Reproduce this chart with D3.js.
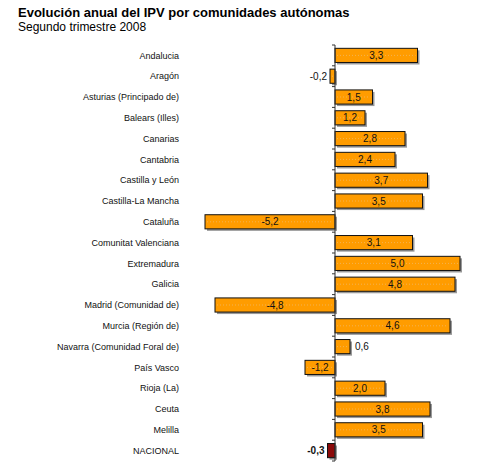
<!DOCTYPE html>
<html>
<head>
<meta charset="utf-8">
<script src="https://cdn.jsdelivr.net/npm/d3@7"></script>
<style>
  body { margin: 0; background: #fff; }
  text { font-family: "Liberation Sans", Arial, sans-serif; }
</style>
</head>
<body>
<svg id="chart"></svg>
<script>
const regions = ['Andalucia', 'Aragón', 'Asturias (Principado de)', 'Balears (Illes)', 'Canarias',
    'Cantabria', 'Castilla y León', 'Castilla-La Mancha', 'Cataluña', 'Comunitat Valenciana',
    'Extremadura', 'Galicia', 'Madrid (Comunidad de)', 'Murcia (Región de)',
    'Navarra (Comunidad Foral de)', 'País Vasco', 'Rioja (La)', 'Ceuta', 'Melilla', 'NACIONAL'];
const values = [3.3, -0.2, 1.5, 1.2, 2.8, 2.4, 3.7, 3.5, -5.2, 3.1, 5.0, 4.8, -4.8, 4.6, 0.6, -1.2, 2.0, 3.8, 3.5, -0.3];

const data = regions.map((r, i) => ({ name: r, value: values[i] }));

const width = 480, height = 466;
const svg = d3.select('#chart').attr('width', width).attr('height', height);

svg.append('text')
    .attr('x', 18).attr('y', 17)
    .attr('font-size', 13).attr('font-weight', 'bold')
    .text('Evolución anual del IPV por comunidades autónomas');
svg.append('text')
    .attr('x', 18).attr('y', 31)
    .attr('font-size', 12)
    .text('Segundo trimestre 2008');

const x = d3.scaleLinear().domain([-5.4, 5.2]).range([200, 465]);
const y = d3.scaleBand().domain(regions).range([45, 461]).paddingInner(0.32).paddingOuter(0.16);

const fmt = v => d3.format('.1f')(v).replace('.', ',').replace('−', '-');

// category labels
svg.append('g').selectAll('text')
    .data(data).enter().append('text')
    .attr('x', 179)
    .attr('y', d => y(d.name) + y.bandwidth() / 2)
    .attr('dy', '0.35em')
    .attr('text-anchor', 'end')
    .attr('font-size', 9)
    .attr('fill', '#111')
    .text(d => d.name);

// shadows
svg.append('g').selectAll('rect')
    .data(data).enter().append('rect')
    .attr('x', d => Math.min(x(0), x(d.value)) + 2)
    .attr('y', d => y(d.name) + 2)
    .attr('width', d => Math.abs(x(d.value) - x(0)))
    .attr('height', y.bandwidth())
    .attr('fill', '#999');

// bars
svg.append('g').selectAll('rect')
    .data(data).enter().append('rect')
    .attr('x', d => Math.min(x(0), x(d.value)))
    .attr('y', d => y(d.name))
    .attr('width', d => Math.abs(x(d.value) - x(0)))
    .attr('height', y.bandwidth())
    .attr('fill', d => d.name === 'NACIONAL' ? '#8b0a0a' : '#ff9c00')
    .attr('stroke', '#111')
    .attr('stroke-width', 1);

// faint dotted line inside bars
svg.append('g').selectAll('line')
    .data(data.filter(d => d.name !== 'NACIONAL')).enter().append('line')
    .attr('x1', d => Math.min(x(0), x(d.value)) + 2)
    .attr('x2', d => Math.max(x(0), x(d.value)) - 2)
    .attr('y1', d => y(d.name) + y.bandwidth() / 2)
    .attr('y2', d => y(d.name) + y.bandwidth() / 2)
    .attr('stroke', '#f4b250')
    .attr('stroke-dasharray', '1,2');

// axis line with ticks at band edges
const axis = svg.append('g');
axis.append('line')
    .attr('x1', x(0)).attr('x2', x(0))
    .attr('y1', y.range()[0]).attr('y2', y.range()[1])
    .attr('stroke', '#333');
axis.selectAll('.tick')
    .data(d3.range(regions.length + 1)).enter().append('line')
    .attr('x1', x(0) - 3).attr('x2', x(0))
    .attr('y1', i => y.range()[0] + i * y.step())
    .attr('y2', i => y.range()[0] + i * y.step())
    .attr('stroke', '#333');

// value labels
svg.append('g').selectAll('text')
    .data(data).enter().append('text')
    .attr('x', d => {
        const w = Math.abs(x(d.value) - x(0));
        if (w > 20) return (x(0) + x(d.value)) / 2;
        return d.value < 0 ? x(d.value) - 3 : x(d.value) + 5;
    })
    .attr('y', d => y(d.name) + y.bandwidth() / 2)
    .attr('dy', '0.35em')
    .attr('text-anchor', d => {
        const w = Math.abs(x(d.value) - x(0));
        if (w > 20) return 'middle';
        return d.value < 0 ? 'end' : 'start';
    })
    .attr('font-size', 10)
    .attr('font-weight', d => d.name === 'NACIONAL' ? 'bold' : 'normal')
    .attr('fill', '#111')
    .text(d => fmt(d.value));
</script>
</body>
</html>
